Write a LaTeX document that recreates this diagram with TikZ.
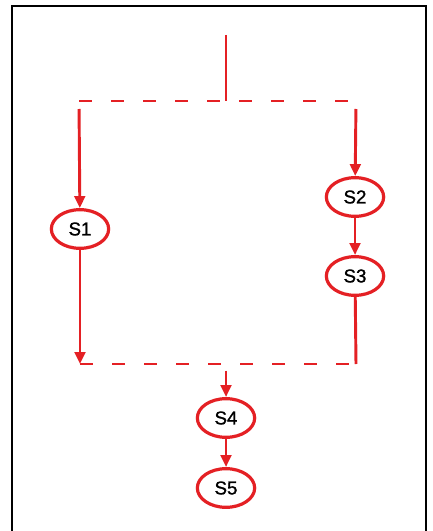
\documentclass[tikz,border=0pt]{standalone}
\usepackage{fontspec}
\setmainfont{Liberation Sans}
\usetikzlibrary{shapes.geometric,arrows.meta}

\definecolor{flowred}{RGB}{228,32,36}

\tikzset{
  state/.style={ellipse, draw=flowred, line width=2.4pt, fill=white,
    minimum width=43pt, minimum height=29pt, inner sep=0pt,
    font=\fontsize{14}{14}\selectfont\addfontfeature{FakeBold=1.2}},
  flow/.style={draw=flowred, line width=2.2pt},
  flowarr/.style={flow, -{Triangle[length=9pt,width=8pt]}},
  split/.style={flow, dash pattern=on 10pt off 14pt}
}

\begin{document}
\begin{tikzpicture}[x=0.75pt,y=-0.75pt]

\useasboundingbox (0,0) rectangle (432,531);

% frame, open at the bottom
\draw[line width=1.6pt] (12,531) -- (12,6) -- (426,6) -- (426,531);

% states
\node[state] (s1) at (80,229) {S1};
\node[state] (s2) at (355,197) {S2};
\node[state] (s3) at (355,276) {S3};
\node[state] (s4) at (226,418) {S4};
\node[state] (s5) at (226,488) {S5};

% fork and join points
\coordinate (in)    at (226,35);
\coordinate (fork)  at (226,101);
\coordinate (forkl) at (79,101);
\coordinate (forkr) at (356,101);
\coordinate (joinl) at (80,364);
\coordinate (joinr) at (356,364);
\coordinate (join)  at (226,364);

% entry and split
\draw[flow] (in) -- (fork);
\draw[split] (forkl) -- (forkr);
\draw[flowarr, shorten <=6pt] (forkl) -- (s1);
\draw[flowarr, shorten <=6pt] (forkr) -- (s2);

% branches
\draw[flowarr] (s2) -- (s3);
\draw[flowarr] (s1) -- (joinl);
\draw[flow] (s3) -- (joinr);

% join
\draw[split] (joinl) -- (joinr);
\draw[flowarr, shorten <=5pt] (join) -- (s4);
\draw[flowarr] (s4) -- (s5);

\end{tikzpicture}
\end{document}
